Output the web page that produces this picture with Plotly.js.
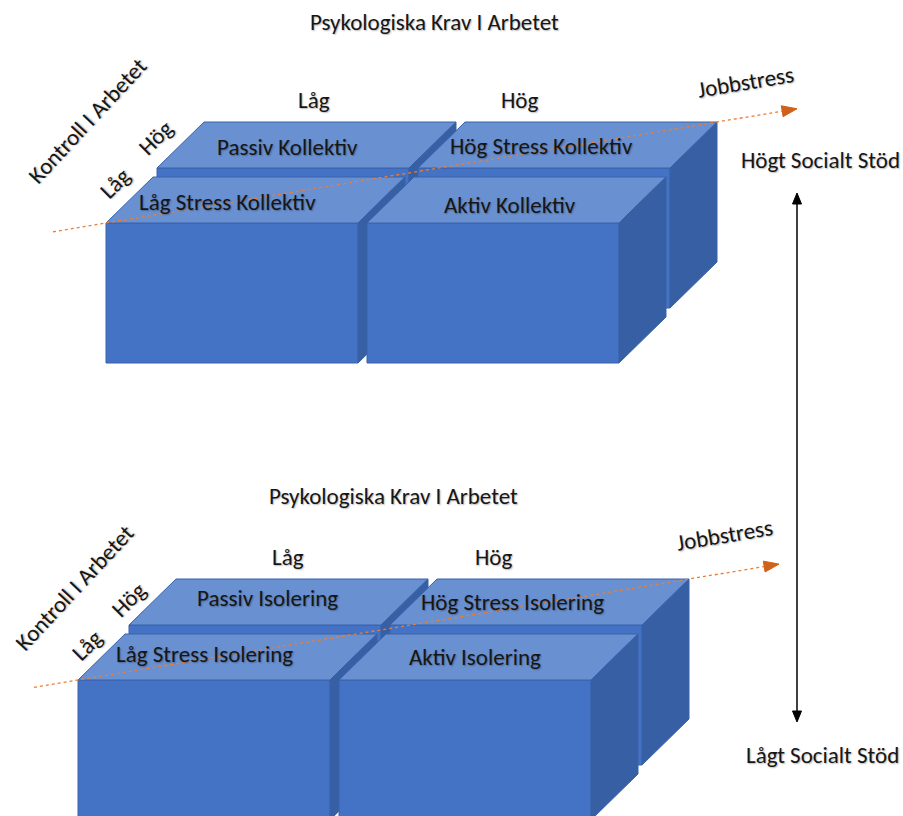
<!DOCTYPE html>
<html>
<head>
<meta charset="utf-8">
<script src="https://cdn.plot.ly/plotly-3.0.1.min.js"></script>
<style>
html,body{margin:0;padding:0;background:#fff;}
#chart{width:903px;height:816px;}
#chart .annotation-text{text-shadow:1px 1px 1.5px rgba(0,0,0,0.28);}
</style>
</head>
<body>
<div id="chart"></div>
<script>
// ---- data (labels of the model) ----
const groupNames = ['Kollektiv', 'Isolering'];
const demandTitle = 'Psykologiska Krav I Arbetet';
const controlTitle = 'Kontroll I Arbetet';
const demandLevels = ['Låg', 'Hög'];
const controlLevels = ['Låg', 'Hög'];
// cellPrefixes[control][demand]
const cellPrefixes = [['Låg Stress', 'Aktiv'], ['Passiv', 'Hög Stress']];
const stressLabel = 'Jobbstress';
const supportLabels = ['Högt Socialt Stöd', 'Lågt Socialt Stöd'];

// ---- layout constants ----
const FONT = 'Carlito, Lato, "Noto Sans", sans-serif';
const FS = 23;
const W = 252, H = 140, DX = 47, DY = -46;
const COL_STEP = 261, ROW_DX = 51, ROW_DY = -55;
const groupCfg = [
  { ox: 0, oy: 0, lineStart: 53, lineEnd: 797,
    title: [434, 22], demandPos: [[314, 100], [519, 100]],
    ctrlTitle: [87, 121], ctrlPos: [[115, 183], [155, 138]],
    cellPos: [[[227, 202], [510, 205]], [[287, 147], [541, 146]]],
    stress: [745, 82] },
  { ox: -28, oy: 457, lineStart: 34, lineEnd: 779,
    title: [393, 496], demandPos: [[288, 557], [493, 557]],
    ctrlTitle: [74, 588], ctrlPos: [[87, 645], [128, 600]],
    cellPos: [[[204, 654], [475, 657]], [[267, 598], [512, 602]]],
    stress: [724, 535] }
];
const FRONT = '#4472C4', TOP = '#6990D1', SIDE = '#375FA3', EDGE = '#3A63AC';

const traces = [];
const annotations = [];

function poly(xs, ys, fill) {
  traces.push({
    type: 'scatter', mode: 'lines', x: xs.concat([xs[0]]), y: ys.concat([ys[0]]),
    fill: 'toself', fillcolor: fill, line: { color: EDGE, width: 1 },
    hoverinfo: 'skip', showlegend: false
  });
}
function box(x, y) {
  poly([x, x + W, x + W, x], [y, y, y + H, y + H], FRONT);
  poly([x, x + W, x + W + DX, x + DX], [y, y, y + DY, y + DY], TOP);
  poly([x + W, x + W + DX, x + W + DX, x + W], [y, y + DY, y + H + DY, y + H], SIDE);
}
function text(t, pos, angle, size) {
  annotations.push({
    x: pos[0], y: pos[1], xref: 'x', yref: 'y', text: t, showarrow: false,
    textangle: angle || 0, xanchor: 'center', yanchor: 'middle',
    font: { family: FONT, size: size || FS, color: '#161616' }
  });
}

groupCfg.forEach((g, gi) => {
  const bx = (r, c) => 106 + g.ox + c * COL_STEP + r * ROW_DX;
  const by = (r) => 223 + g.oy + r * ROW_DY;
  for (let r = controlLevels.length - 1; r >= 0; r--) {
    for (let c = 0; c < demandLevels.length; c++) box(bx(r, c), by(r));
  }
  const x0 = bx(0, 0), y0 = by(0);
  const x1 = bx(1, 1) + W + DX, y1 = by(1) + DY;
  const m = (y1 - y0) / (x1 - x0);
  const xs = g.lineStart, xe = g.lineEnd;
  const ys = y0 + (xs - x0) * m, ye = y0 + (xe - x0) * m;
  const ang = Math.atan(m);
  const L = 15, HW = 5.5;
  const ux = Math.cos(ang), uy = Math.sin(ang);
  const bxh = xe - L * ux, byh = ye - L * uy;
  traces.push({ type: 'scatter', mode: 'lines', x: [xs, bxh], y: [ys, byh],
    line: { color: '#ED7D31', width: 1.3, dash: 'dot' }, hoverinfo: 'skip', showlegend: false });
  traces.push({ type: 'scatter', mode: 'lines',
    x: [xe, bxh - HW * uy, bxh + HW * uy, xe], y: [ye, byh + HW * ux, byh - HW * ux, ye],
    fill: 'toself', fillcolor: '#D0611A', line: { color: '#D0611A', width: 1 },
    hoverinfo: 'skip', showlegend: false });

  text(demandTitle, g.title);
  demandLevels.forEach((d, i) => text(d, g.demandPos[i]));
  text(controlTitle, g.ctrlTitle, -47);
  controlLevels.forEach((c, i) => text(c, g.ctrlPos[i], -45));
  for (let r = 0; r < 2; r++) for (let c = 0; c < 2; c++)
    text(cellPrefixes[r][c] + ' ' + groupNames[gi], g.cellPos[r][c]);
  text(stressLabel, g.stress, -9.5);
});

const AX = 797, AY0 = 193, AY1 = 722, AL = 11, AW = 4.5;
traces.push({ type: 'scatter', mode: 'lines', x: [AX, AX], y: [AY0 + AL, AY1 - AL],
  line: { color: '#000', width: 1.5 }, hoverinfo: 'skip', showlegend: false });
traces.push({ type: 'scatter', mode: 'lines', x: [AX, AX - AW, AX + AW, AX], y: [AY0, AY0 + AL, AY0 + AL, AY0],
  fill: 'toself', fillcolor: '#000', line: { color: '#000', width: 1 }, hoverinfo: 'skip', showlegend: false });
traces.push({ type: 'scatter', mode: 'lines', x: [AX, AX - AW, AX + AW, AX], y: [AY1, AY1 - AL, AY1 - AL, AY1],
  fill: 'toself', fillcolor: '#000', line: { color: '#000', width: 1 }, hoverinfo: 'skip', showlegend: false });
text(supportLabels[0], [820, 160]);
text(supportLabels[1], [822, 755]);

const layout = {
  width: 903, height: 816, margin: { l: 0, r: 0, t: 0, b: 0 },
  paper_bgcolor: '#fff', plot_bgcolor: '#fff',
  xaxis: { range: [0, 903], visible: false, fixedrange: true },
  yaxis: { range: [816, 0], visible: false, fixedrange: true },
  annotations: annotations, showlegend: false, hovermode: false
};
Plotly.newPlot('chart', traces, layout, { displayModeBar: false, staticPlot: true });
</script>
</body>
</html>
